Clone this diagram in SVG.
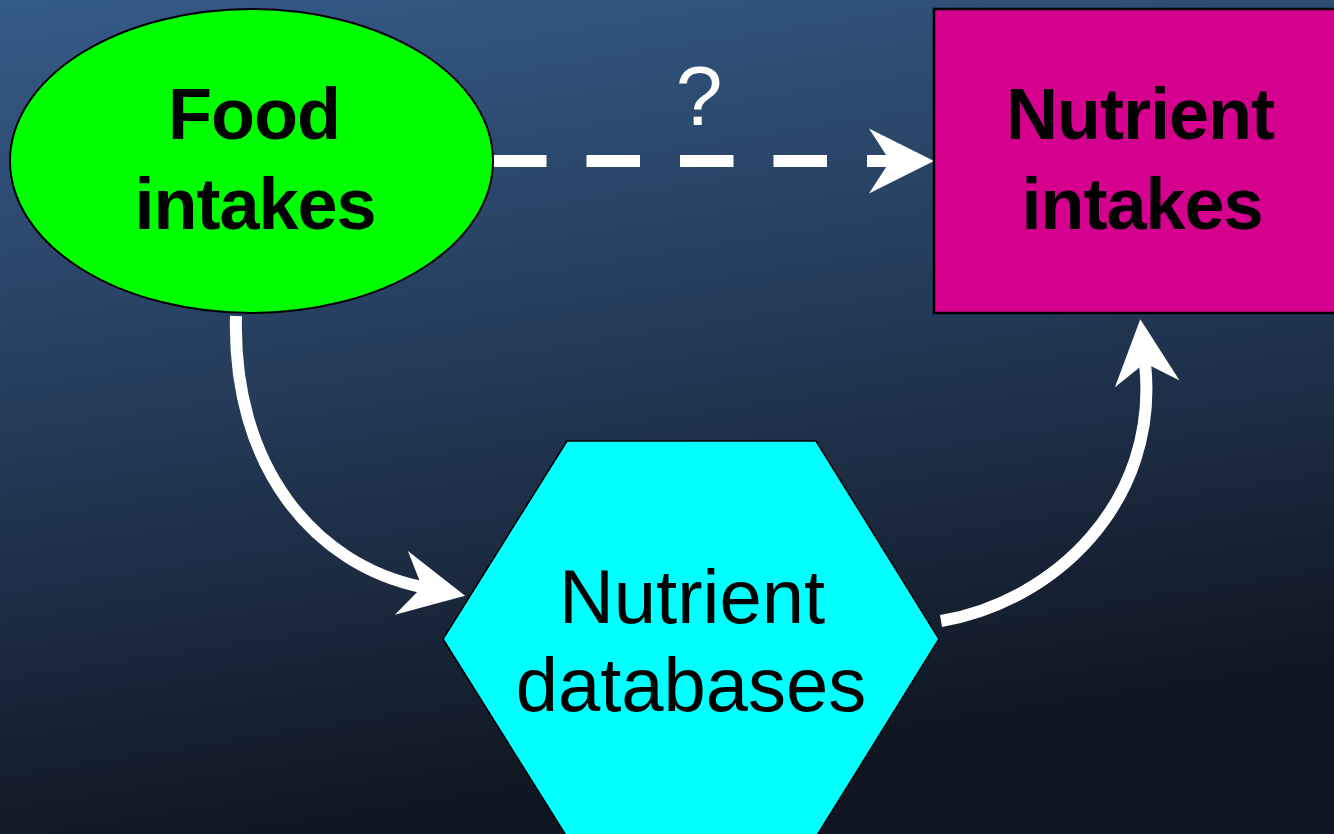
<svg xmlns="http://www.w3.org/2000/svg" width="1334" height="834" viewBox="0 0 1334 834">
  <defs>
    <linearGradient id="bg" x1="0" y1="0" x2="0.25" y2="1">
      <stop offset="0" stop-color="#355b88"/>
      <stop offset="0.5" stop-color="#243a58"/>
      <stop offset="1" stop-color="#0f1621"/>
    </linearGradient>
    <marker id="head" markerUnits="userSpaceOnUse" markerWidth="80" markerHeight="80" refX="0" refY="0" orient="auto" overflow="visible">
      <path d="M-21,-32.5 L44,0 L-21,32.5 L0,0 Z" fill="#ffffff"/>
    </marker>
  </defs>
  <style>
    .conn { fill: none; stroke: #ffffff; stroke-width: 12; marker-end: url(#head); }
    .dash { stroke-dasharray: 53.5 40; }
    .node { stroke: #000000; }
    .bold { font-family: "Liberation Sans", Arial, sans-serif; font-weight: bold; font-size: 72px; letter-spacing: -1px; fill: #000000; text-anchor: middle; }
    .reg { font-family: "Liberation Sans", Arial, sans-serif; font-size: 76px; fill: #000000; text-anchor: middle; }
    .q { font-family: "Liberation Sans", Arial, sans-serif; font-size: 84px; fill: #ffffff; text-anchor: middle; }
  </style>
  <rect x="0" y="0" width="1334" height="834" fill="url(#bg)"/>

  <g id="connectors">
    <path class="conn dash" d="M493,161 L890,161"/>
    <path class="conn" d="M236,316 C232,466 314,565 422,587"/>
    <path class="conn" d="M941,621 C1054,602 1160,502 1145,363"/>
    <text class="q" x="699" y="125">?</text>
  </g>

  <g id="food-intakes">
    <ellipse class="node" cx="251.5" cy="161" rx="241.5" ry="152" fill="#00ff00" stroke-width="2"/>
    <text class="bold" x="254" y="139">Food</text>
    <text class="bold" x="255" y="229">intakes</text>
  </g>

  <g id="nutrient-intakes">
    <rect class="node" x="934" y="9" width="420" height="304" fill="#d6008f" stroke-width="2.5"/>
    <text class="bold" x="1140" y="139">Nutrient</text>
    <text class="bold" x="1142" y="229">intakes</text>
  </g>

  <g id="nutrient-databases">
    <polygon class="node" points="567,441 816,441 939,639 816,837 567,837 443,639" fill="#00ffff" stroke-width="1.5"/>
    <text class="reg" x="692" y="623">Nutrient</text>
    <text class="reg" x="691" y="711">databases</text>
  </g>
</svg>
